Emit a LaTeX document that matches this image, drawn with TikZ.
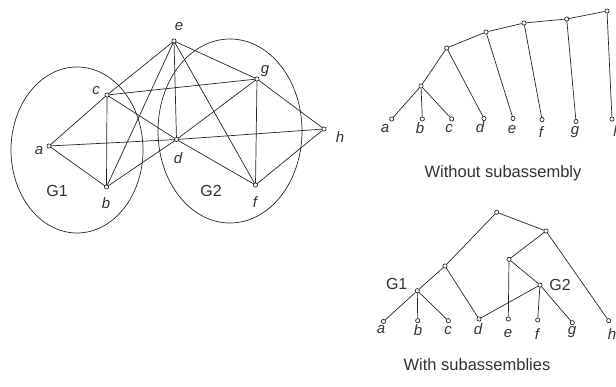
\documentclass[tikz,border=0pt]{standalone}
\usepackage{fontspec}
\setmainfont{Liberation Sans}
\begin{document}
\begin{tikzpicture}[x=1pt,y=-1pt,
  pt/.style={circle,draw=black!85,fill=white,line width=0.7pt,inner sep=0pt,minimum size=4.2pt},
  lbl/.style={font=\fontsize{15}{15}\selectfont\itshape,text=black!80,inner sep=0pt,anchor=base},
  grp/.style={font=\fontsize{16}{16}\selectfont,text=black!80,inner sep=0pt},
  captxt/.style={font=\fontsize{16.5}{16.5}\selectfont,text=black!80,inner sep=0pt},
  conn/.style={draw=black!85,line width=0.7pt},
  ring/.style={draw=black!85,line width=0.7pt}]
\useasboundingbox (0,0) rectangle (616,386);
% ---------- left graph ----------
\draw[ring] (77,150) ellipse[x radius=66,y radius=83];
\draw[ring] (230,131) ellipse[x radius=72,y radius=92];
\coordinate (e) at (174,41);
\coordinate (g) at (257,79);
\coordinate (c) at (107,95);
\coordinate (a) at (49,146);
\coordinate (d) at (176.5,139.5);
\coordinate (h) at (324,129);
\coordinate (b) at (106.5,187);
\coordinate (f) at (255.5,185);
\draw[conn] (e)--(c) (e)--(b) (e)--(d) (e)--(f) (e)--(g)
  (c)--(g) (c)--(b) (c)--(a) (c)--(d)
  (a)--(d) (a)--(b) (b)--(d)
  (d)--(g) (d)--(h) (d)--(f)
  (g)--(f) (g)--(h) (h)--(f);
\foreach \n in {e,g,c,a,d,h,b,f} \node[pt] (p\n) at (\n) {};
\node[lbl] (le) at (179,30) {e};
\node[lbl] (lg) at (265,73) {g};
\node[lbl] (lc) at (96,94) {c};
\node[lbl] (la) at (39,154) {a};
\node[lbl] (ld) at (178,163) {d};
\node[lbl] (lh) at (340,142) {h};
\node[lbl] (lb) at (106,208) {b};
\node[lbl] (lf) at (255,207) {f};
\node[grp] (G1) at (57,190.5) {G1};
\node[grp] (G2) at (211,190.5) {G2};
% ---------- top tree ----------
\node[pt] (ta) at (391.7,119) {};
\node[pt] (tb) at (422.3,119) {};
\node[pt] (tc) at (451.7,119) {};
\node[pt] (td) at (484,118.5) {};
\node[pt] (te) at (513,118.5) {};
\node[pt] (tf) at (542,119.5) {};
\node[pt] (tg) at (576,121.5) {};
\node[pt] (th) at (612,119) {};
\node[pt] (t1) at (421,86) {};
\node[pt] (t2) at (446.7,48) {};
\node[pt] (t3) at (486,32) {};
\node[pt] (t4) at (524,23) {};
\node[pt] (t5) at (566.7,19) {};
\node[pt] (t6) at (607,11) {};
\draw[conn] (ta)--(t1) (tb)--(t1) (tc)--(t1) (t1)--(t2) (t2)--(td)
  (t2)--(t3) (t3)--(te) (t3)--(t4) (t4)--(tf) (t4)--(t5) (t5)--(tg)
  (t5)--(t6) (t6)--(th);
\node[lbl] (tla) at (385,132) {a};
\node[lbl] (tlb) at (420,133.5) {b};
\node[lbl] (tlc) at (449,132) {c};
\node[lbl] (tld) at (480,132.5) {d};
\node[lbl] (tle) at (512,133) {e};
\node[lbl] (tlf) at (541,137) {f};
\node[lbl] (tlg) at (575,134.5) {g};
\node[lbl] (tlh) at (617.5,136) {h};
\node[captxt] (cap1) at (503,173) {Without subassembly};
% ---------- bottom tree ----------
\node[pt] (ba) at (383.5,321.5) {};
\node[pt] (bb) at (417.7,320.7) {};
\node[pt] (bc) at (448.3,320.7) {};
\node[pt] (bd) at (479,319) {};
\node[pt] (be) at (508.3,319) {};
\node[pt] (bf) at (537.7,320) {};
\node[pt] (bg) at (572.3,322.7) {};
\node[pt] (bh) at (608.7,320.7) {};
\node[pt] (bG1) at (417.3,290.7) {};
\node[pt] (bn) at (445,266) {};
\node[pt] (br) at (496.7,212.3) {};
\node[pt] (bq) at (546,231) {};
\node[pt] (bm) at (509,259.3) {};
\node[pt] (bG2) at (540,285) {};
\draw[conn] (bG1)--(ba) (bG1)--(bb) (bG1)--(bc) (bG1)--(bn) (bn)--(br)
  (bn)--(bd) (br)--(bq) (bq)--(bm) (bq)--(bh) (bm)--(be) (bm)--(bG2)
  (bG2)--(bf) (bG2)--(bg) (bG2)--(bd);
\node[grp] (lG1) at (396.7,284) {G1};
\node[grp] (lG2) at (560,285) {G2};
\node[lbl] (bla) at (381,333) {a};
\node[lbl] (blb) at (418,335) {b};
\node[lbl] (blc) at (448,334) {c};
\node[lbl] (bld) at (478,334) {d};
\node[lbl] (ble) at (508,337) {e};
\node[lbl] (blf) at (537,339) {f};
\node[lbl] (blg) at (572,334) {g};
\node[lbl] (blh) at (612,339) {h};
\node[captxt] (cap2) at (477,365) {With subassemblies};
\end{tikzpicture}
\end{document}
